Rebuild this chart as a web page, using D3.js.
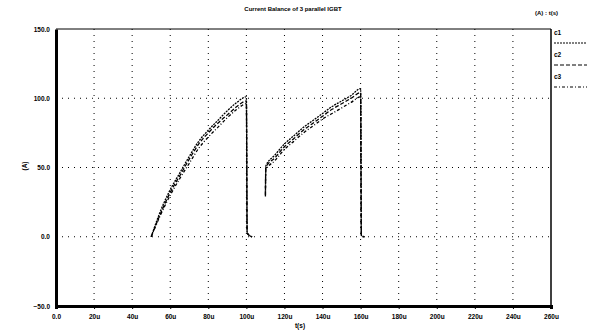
<!DOCTYPE html>
<html>
<head>
<meta charset="utf-8">
<script src="https://cdn.jsdelivr.net/npm/d3@7"></script>
<style>
  body { margin: 0; background: #fff; }
  text { font-family: "Liberation Sans", Arial, sans-serif; font-weight: bold; fill: #000; }
</style>
</head>
<body>
<div id="chart"></div>
<script>
// time in us
const pulse1T  = [50, 55, 60, 65, 70, 75, 80, 85, 90, 95, 100, 100.4, 101.5, 103];
const pulse1C1 = [0, 19, 34, 46, 58, 69, 77, 84, 91, 97, 101, 3, 1, 0];
const pulse1C2 = [0, 17, 32, 44, 56, 67, 75, 82, 88, 94, 98, 3, 1, 0];
const pulse1C3 = [0, 16, 30, 42, 53, 64, 72, 79, 86, 92, 96, 3, 1, 0];

const pulse2T  = [110, 110.2, 115, 120, 125, 130, 135, 140, 145, 150, 155, 160, 160.4, 162];
const pulse2C1 = [31, 51, 59, 67, 73, 79, 84, 89, 94, 98, 102, 107, 1, 0];
const pulse2C2 = [30, 50, 57, 65, 71, 77, 82, 87, 92, 96, 100, 104, 1, 0];
const pulse2C3 = [29, 48, 55, 63, 69, 75, 80, 85, 89, 93, 97, 101, 1, 0];

const seriesNames = ['c1', 'c2', 'c3'];
const xTicks = [0, 20, 40, 60, 80, 100, 120, 140, 160, 180, 200, 220, 240, 260];
const yTicks = [-50, 0, 50, 100, 150];
const yGrid = [0, 50, 100];

const title = 'Current Balance of 3 parallel IGBT';

const width = 589, height = 333;
const margin = { top: 29, right: 38, bottom: 27, left: 56 };

const svg = d3.select('#chart').append('svg')
  .attr('width', width)
  .attr('height', height);

const x = d3.scaleLinear().domain([0, 260]).range([margin.left, width - margin.right]);
const y = d3.scaleLinear().domain([-50, 150]).range([height - margin.bottom, margin.top]);

const dashes = ['2,1', '4,2', '3,2,1,2'];

// grid
svg.append('g').selectAll('line').data(xTicks.slice(1, -1)).join('line')
  .attr('x1', d => x(d)).attr('x2', d => x(d))
  .attr('y1', y(150)).attr('y2', y(-50))
  .attr('stroke', '#000').attr('stroke-width', 1)
  .attr('stroke-dasharray', '1,5');

svg.append('g').selectAll('line').data(yGrid).join('line')
  .attr('x1', x(0)).attr('x2', x(260))
  .attr('y1', d => y(d)).attr('y2', d => y(d))
  .attr('stroke', '#000').attr('stroke-width', 1)
  .attr('stroke-dasharray', '1,5');

// frame
svg.append('line').attr('x1', x(0)).attr('x2', x(260)).attr('y1', y(150)).attr('y2', y(150))
  .attr('stroke', '#000').attr('stroke-width', 1);
svg.append('line').attr('x1', x(260)).attr('x2', x(260)).attr('y1', y(150)).attr('y2', y(-50))
  .attr('stroke', '#000').attr('stroke-width', 1.5);

// axes
const xAxis = svg.append('g')
  .attr('transform', `translate(0,${y(-50)})`)
  .call(d3.axisBottom(x).tickValues(xTicks).tickSize(3)
    .tickFormat(d => d === 0 ? '0.0' : d + 'u'));
xAxis.select('.domain').attr('stroke-width', 3);
xAxis.selectAll('text').attr('font-size', 6.5).attr('dy', '1.1em');

const yAxis = svg.append('g')
  .attr('transform', `translate(${x(0)},0)`)
  .call(d3.axisLeft(y).tickValues(yTicks).tickSize(0).tickFormat(d3.format('.1f')));
yAxis.select('.domain').attr('stroke-width', 3);
yAxis.selectAll('text').attr('font-size', 6.5).attr('dx', '-3');

// data lines
const line = d3.line()
  .x(d => x(d[0]))
  .y(d => y(d[1]))
  .curve(d3.curveMonotoneX);

const pulses = [
  [pulse1T, [pulse1C1, pulse1C2, pulse1C3]],
  [pulse2T, [pulse2C1, pulse2C2, pulse2C3]]
];

pulses.forEach(([ts, vals]) => {
  vals.forEach((v, i) => {
    svg.append('path')
      .datum(ts.map((t, k) => [t, v[k]]))
      .attr('d', line)
      .attr('fill', 'none')
      .attr('stroke', '#000')
      .attr('stroke-width', 1.3)
      .attr('stroke-dasharray', dashes[i]);
  });
});

// title and labels
svg.append('text').attr('x', 293).attr('y', 11).attr('text-anchor', 'middle')
  .attr('font-size', 6).text(title);
svg.append('text').attr('x', 300).attr('y', 328).attr('text-anchor', 'middle')
  .attr('font-size', 6.5).text('t(s)');
svg.append('text').attr('transform', 'translate(27,166) rotate(-90)')
  .attr('text-anchor', 'middle').attr('font-size', 6.5).text('(A)');

// legend
svg.append('text').attr('x', 535).attr('y', 15).attr('font-size', 6).text('(A) : t(s)');
const leg = svg.append('g').selectAll('g').data(seriesNames).join('g')
  .attr('transform', (d, i) => `translate(554,${35 + i * 22})`);
leg.append('text').attr('font-size', 6.5).text(d => d);
leg.append('line').attr('x1', 0).attr('x2', 33).attr('y1', 8).attr('y2', 8)
  .attr('stroke', '#000').attr('stroke-width', 1)
  .attr('stroke-dasharray', (d, i) => dashes[i]);
</script>
</body>
</html>
